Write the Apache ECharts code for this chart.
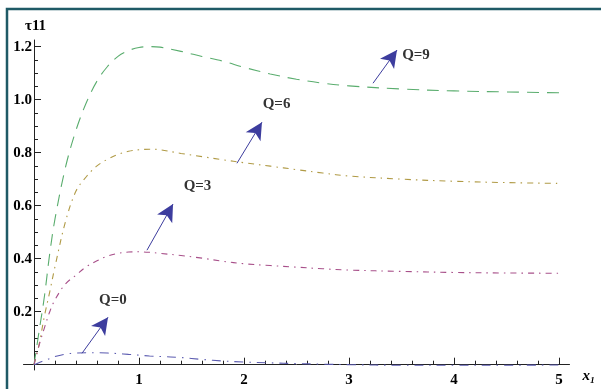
<!DOCTYPE html>
<html>
<head>
<meta charset="utf-8">
<script src="https://cdn.jsdelivr.net/npm/echarts@6/dist/echarts.min.js"></script>
<style>
html,body{margin:0;padding:0;background:#fff;}
#chart{width:601px;height:389px;}
</style>
</head>
<body>
<div id="chart"></div>
<script>
// ---- data ----
const xs = [0, 0.05, 0.1, 0.15, 0.2, 0.3, 0.4, 0.5, 0.6, 0.7, 0.8, 0.9, 1.0, 1.1, 1.2, 1.4, 1.6, 1.8, 2.0, 2.25, 2.5, 2.75, 3.0, 3.5, 4.0, 4.5, 5.0];
const q9 = [0, 0.13, 0.26, 0.42, 0.55, 0.745, 0.885, 0.99, 1.07, 1.125, 1.163, 1.185, 1.197, 1.2, 1.198, 1.182, 1.163, 1.145, 1.122, 1.097, 1.077, 1.062, 1.052, 1.04, 1.033, 1.029, 1.026];
const q6 = [0, 0.08, 0.185, 0.275, 0.37, 0.54, 0.655, 0.71, 0.75, 0.775, 0.793, 0.805, 0.811, 0.813, 0.811, 0.797, 0.785, 0.773, 0.762, 0.749, 0.736, 0.723, 0.712, 0.7, 0.692, 0.687, 0.684];
const q3 = [0, 0.075, 0.14, 0.2, 0.245, 0.305, 0.338, 0.37, 0.392, 0.41, 0.42, 0.425, 0.426, 0.424, 0.42, 0.412, 0.402, 0.39, 0.381, 0.374, 0.368, 0.362, 0.357, 0.352, 0.348, 0.346, 0.345];
const q0 = [0, 0.008, 0.016, 0.023, 0.031, 0.04, 0.044, 0.045, 0.045, 0.044, 0.042, 0.039, 0.036, 0.033, 0.031, 0.027, 0.02, 0.014, 0.01, 0.007, 0.004, 0.002, 0, -0.002, -0.002, -0.002, -0.001];

const xMajorTicks = [1, 2, 3, 4, 5];
const xMinorTicks = [0.2,0.4,0.6,0.8,1.2,1.4,1.6,1.8,2.2,2.4,2.6,2.8,3.2,3.4,3.6,3.8,4.2,4.4,4.6,4.8];
const yMajorTicks = [0.2, 0.4, 0.6, 0.8, 1.0, 1.2];
const yMinorTicks = [0.05,0.1,0.15,0.25,0.3,0.35,0.45,0.5,0.55,0.65,0.7,0.75,0.85,0.9,0.95,1.05,1.1,1.15];

const annLabels = ['Q=0', 'Q=3', 'Q=6', 'Q=9'];
const annLabelX = [0.752, 1.557, 2.31, 3.638];
const annLabelY = [0.243, 0.675, 0.983, 1.168];
const arrowFromX = [0.457, 1.076, 1.933, 3.229];
const arrowFromY = [0.043, 0.432, 0.760, 1.062];
const arrowToX = [0.705, 1.324, 2.171, 3.457];
const arrowToY = [0.179, 0.606, 0.915, 1.187];

// ---- chart ----
const serif = "'Liberation Serif', 'DejaVu Serif', serif";
const axisColor = '#222';
const chart = echarts.init(document.getElementById('chart'), null, {renderer: 'canvas'});

function pairs(ys) { return xs.map((x, i) => [x, ys[i]]); }

const xRange = {min: -0.1, max: 5.1};
const yRange = {min: -0.02, max: 1.225};

const option = {
  animation: false,
  backgroundColor: '#fff',
  title: {
    text: 'τ11', left: 25, top: 19, padding: 0,
    textStyle: {fontFamily: serif, fontWeight: 'bold', fontSize: 15, color: '#000'}
  },
  grid: {left: 23.5, right: 31.5, top: 40, bottom: 19, containLabel: false, outerBoundsMode: 'none'},
  xAxis: [
    {
      type: 'value', ...xRange, position: 'bottom',
      name: 'x₁', nameLocation: 'end', nameGap: 13,
      nameTextStyle: {fontFamily: serif, fontStyle: 'italic', fontWeight: 'bold', fontSize: 15, color: '#000', verticalAlign: 'top', padding: [4, 0, 0, 0]},
      axisLine: {onZero: true, lineStyle: {color: axisColor, width: 1}},
      axisTick: {show: true, inside: true, length: 7, customValues: xMajorTicks, lineStyle: {color: axisColor, width: 1}},
      axisLabel: {customValues: xMajorTicks, margin: 3, fontFamily: serif, fontWeight: 'bold', fontSize: 15, color: '#000', formatter: v => String(v)},
      splitLine: {show: false}
    },
    {
      type: 'value', ...xRange, position: 'bottom',
      axisLine: {show: false, onZero: true},
      axisTick: {show: true, inside: true, length: 4, customValues: xMinorTicks, lineStyle: {color: axisColor, width: 1}},
      axisLabel: {show: false},
      splitLine: {show: false}
    }
  ],
  yAxis: [
    {
      type: 'value', ...yRange, position: 'left',
      axisLine: {onZero: true, lineStyle: {color: axisColor, width: 1}},
      axisTick: {show: true, inside: true, length: 7, customValues: yMajorTicks, lineStyle: {color: axisColor, width: 1}},
      axisLabel: {customValues: yMajorTicks, margin: -8.5, fontFamily: serif, fontWeight: 'bold', fontSize: 15, color: '#000', formatter: v => v.toFixed(1)},
      splitLine: {show: false}
    },
    {
      type: 'value', ...yRange, position: 'left',
      axisLine: {show: false, onZero: true},
      axisTick: {show: true, inside: true, length: 4, customValues: yMinorTicks, lineStyle: {color: axisColor, width: 1}},
      axisLabel: {show: false},
      splitLine: {show: false}
    }
  ],
  graphic: [
    {type: 'rect', shape: {x: 7, y: 9, width: 800, height: 600}, style: {fill: 'none', stroke: '#1f5a66', lineWidth: 2.5}, silent: true, z: 100}
  ],
  series: [
    {name: 'Q=9', type: 'line', data: pairs(q9), smooth: 0.35, showSymbol: false, symbol: 'none',
     lineStyle: {color: '#5aad6e', width: 1.1, type: [12, 8]}},
    {name: 'Q=6', type: 'line', data: pairs(q6), smooth: 0.35, showSymbol: false, symbol: 'none',
     lineStyle: {color: '#b09a45', width: 1.1, type: [6, 5, 1.5, 5]}},
    {name: 'Q=3', type: 'line', data: pairs(q3), smooth: 0.35, showSymbol: false, symbol: 'none',
     lineStyle: {color: '#a8508a', width: 1.1, type: [6, 5, 1.5, 5]}},
    {name: 'Q=0', type: 'line', data: pairs(q0), smooth: 0.35, showSymbol: false, symbol: 'none',
     lineStyle: {color: '#5b5bb0', width: 1.1, type: [9, 6, 1.5, 6]}},
    {
      name: 'annotations', type: 'scatter', symbolSize: 0,
      data: annLabels.map((t, i) => ({value: [annLabelX[i], annLabelY[i]], name: t})),
      label: {show: true, position: 'inside', formatter: p => p.name, fontFamily: serif, fontWeight: 'bold', fontSize: 15, color: '#000'},
      markLine: {
        silent: true, animation: false,
        symbol: ['none', 'arrow'], symbolSize: [13, 17],
        lineStyle: {color: '#3d3d9e', width: 1, type: 'solid'},
        label: {show: false},
        data: arrowFromX.map((x, i) => [
          {coord: [x, arrowFromY[i]]},
          {coord: [arrowToX[i], arrowToY[i]]}
        ])
      }
    }
  ]
};
chart.setOption(option);
</script>
</body>
</html>
